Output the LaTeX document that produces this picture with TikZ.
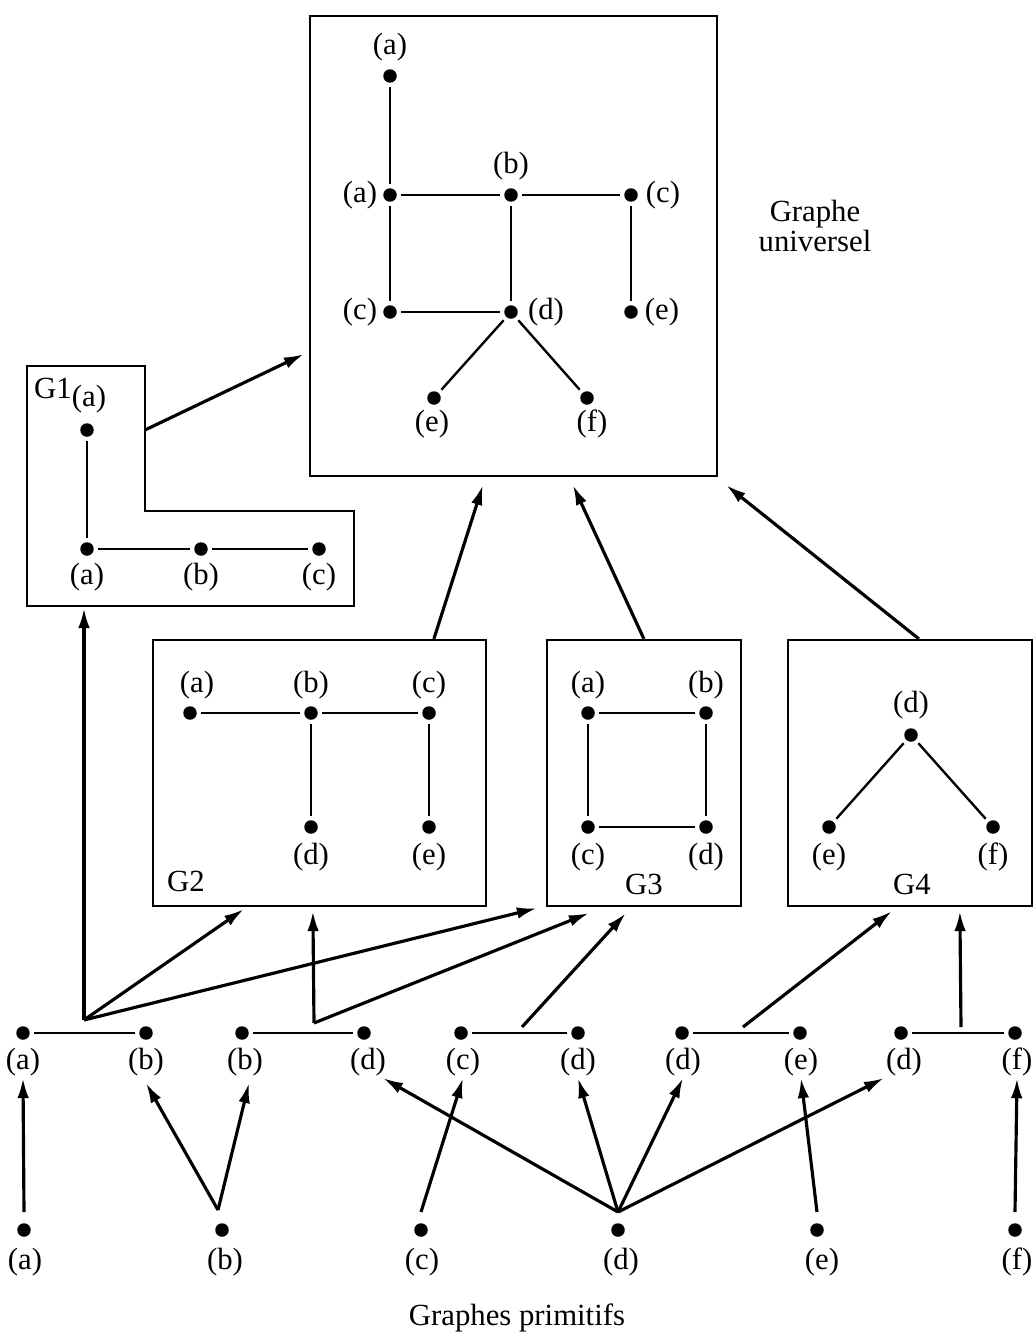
\documentclass[tikz,border=0pt]{standalone}
\usepackage{fontspec}
\setmainfont{Liberation Serif}
\usetikzlibrary{arrows.meta,calc}
\begin{document}
\begin{tikzpicture}[x=0.02cm,y=-0.02cm,
  dot/.style={circle,fill=black,inner sep=0pt,minimum size=0.27cm},
  lbl/.style={inner sep=1pt,font=\fontsize{17.5}{17}\selectfont},
  edge/.style={line width=1.35pt,shorten <=0.08cm,shorten >=0.08cm},
  box/.style={draw,line width=1.3pt,rectangle,inner sep=0pt},
  arr/.style={line width=1.8pt,-{Latex[length=0.4cm,width=0.23cm]}},
]
\useasboundingbox (0,0) rectangle (1035,1335);

% ---------------- Universal graph ----------------
\node[box,minimum width=8.14cm,minimum height=9.2cm] (U) at (513.5,246) {};
\node[dot] (Ua1) at (390,76) {};  \node[lbl] (LUa1) at (390,47) {(a)};
\node[dot] (Ua)  at (390,195) {}; \node[lbl] (LUa)  at (360,195) {(a)};
\node[dot] (Ub)  at (511,195) {}; \node[lbl] (LUb)  at (511,166) {(b)};
\node[dot] (Uc)  at (631,195) {}; \node[lbl] (LUc)  at (663,195) {(c)};
\node[dot] (Uc2) at (390,312) {}; \node[lbl] (LUc2) at (360,312) {(c)};
\node[dot] (Ud)  at (511,312) {}; \node[lbl] (LUd)  at (546,312) {(d)};
\node[dot] (Ue)  at (631,312) {}; \node[lbl] (LUe)  at (662,312) {(e)};
\node[dot] (Ue2) at (434,398) {}; \node[lbl] (LUe2) at (432,424) {(e)};
\node[dot] (Uf)  at (587,398) {}; \node[lbl] (LUf)  at (592,424) {(f)};
\draw[edge] (Ua1) -- (Ua);
\draw[edge] (Ua) -- (Ub);
\draw[edge] (Ub) -- (Uc);
\draw[edge] (Ua) -- (Uc2);
\draw[edge] (Uc2) -- (Ud);
\draw[edge] (Ub) -- (Ud);
\draw[edge] (Uc) -- (Ue);
\draw[edge] (Ud) -- (Ue2);
\draw[edge] (Ud) -- (Uf);
\node[lbl,align=center] (title1) at (815,226) {Graphe\\universel};

% ---------------- G1 ----------------
\draw[line width=1.3pt] (27,366) -- (145,366) -- (145,511) -- (354,511) -- (354,606) -- (27,606) -- cycle;
\coordinate (G1r) at (145,430);
\coordinate (G1bot) at (84,608);
\node[lbl] (G1name) at (53,388) {G1};
\node[dot] (G1a1) at (87,430) {}; \node[lbl] (LG1a1) at (89,399) {(a)};
\node[dot] (G1a)  at (87,549) {}; \node[lbl] (LG1a)  at (87,577) {(a)};
\node[dot] (G1b)  at (201,549) {}; \node[lbl] (LG1b) at (201,577) {(b)};
\node[dot] (G1c)  at (319,549) {}; \node[lbl] (LG1c) at (319,577) {(c)};
\draw[edge] (G1a1) -- (G1a);
\draw[edge] (G1a) -- (G1b);
\draw[edge] (G1b) -- (G1c);

% ---------------- G2 ----------------
\node[box,minimum width=6.66cm,minimum height=5.32cm] (G2) at (319.5,773) {};
\node[lbl] (G2name) at (186,881) {G2};
\node[dot] (G2a) at (190,713) {}; \node[lbl] (LG2a) at (197,685) {(a)};
\node[dot] (G2b) at (311,713) {}; \node[lbl] (LG2b) at (311,685) {(b)};
\node[dot] (G2c) at (429,713) {}; \node[lbl] (LG2c) at (429,685) {(c)};
\node[dot] (G2d) at (311,827) {}; \node[lbl] (LG2d) at (311,857) {(d)};
\node[dot] (G2e) at (429,827) {}; \node[lbl] (LG2e) at (429,857) {(e)};
\draw[edge] (G2a) -- (G2b);
\draw[edge] (G2b) -- (G2c);
\draw[edge] (G2b) -- (G2d);
\draw[edge] (G2c) -- (G2e);

% ---------------- G3 ----------------
\node[box,minimum width=3.88cm,minimum height=5.32cm] (G3) at (644,773) {};
\node[lbl] (G3name) at (644,884) {G3};
\node[dot] (G3a) at (588,713) {}; \node[lbl] (LG3a) at (588,685) {(a)};
\node[dot] (G3b) at (706,713) {}; \node[lbl] (LG3b) at (706,685) {(b)};
\node[dot] (G3c) at (588,827) {}; \node[lbl] (LG3c) at (588,857) {(c)};
\node[dot] (G3d) at (706,827) {}; \node[lbl] (LG3d) at (706,857) {(d)};
\draw[edge] (G3a) -- (G3b);
\draw[edge] (G3a) -- (G3c);
\draw[edge] (G3b) -- (G3d);
\draw[edge] (G3c) -- (G3d);

% ---------------- G4 ----------------
\node[box,minimum width=4.88cm,minimum height=5.32cm] (G4) at (910,773) {};
\node[lbl] (G4name) at (912,884) {G4};
\node[dot] (G4d) at (911,735) {}; \node[lbl] (LG4d) at (911,705) {(d)};
\node[dot] (G4e) at (829,827) {}; \node[lbl] (LG4e) at (829,857) {(e)};
\node[dot] (G4f) at (993,827) {}; \node[lbl] (LG4f) at (993,857) {(f)};
\draw[edge] (G4d) -- (G4e);
\draw[edge] (G4d) -- (G4f);

% ---------------- arrows to universal ----------------
\draw[arr] (G1r) -- ($(U.south west)+(-5,-123)$);
\draw[arr] ($(G2.north west)+(282,0)$) -- ($(U.south west)+(174,8)$);
\draw[arr] ($(G3.north west)+(98,0)$) -- ($(U.south west)+(264,8)$);
\draw[arr] ($(G4.north west)+(132,0)$) -- ($(U.south east)+(8,8)$);

% ---------------- pairs ----------------
\node[dot] (p1a) at (23,1033) {};  \node[lbl] (Lp1a) at (23,1062) {(a)};
\node[dot] (p1b) at (146,1033) {}; \node[lbl] (Lp1b) at (146,1062) {(b)};
\node[dot] (p2b) at (242,1033) {}; \node[lbl] (Lp2b) at (245,1062) {(b)};
\node[dot] (p2d) at (364,1033) {}; \node[lbl] (Lp2d) at (368,1062) {(d)};
\node[dot] (p3c) at (461,1033) {}; \node[lbl] (Lp3c) at (463,1062) {(c)};
\node[dot] (p3d) at (578,1033) {}; \node[lbl] (Lp3d) at (578,1062) {(d)};
\node[dot] (p4d) at (682,1033) {}; \node[lbl] (Lp4d) at (683,1062) {(d)};
\node[dot] (p4e) at (800,1033) {}; \node[lbl] (Lp4e) at (801,1062) {(e)};
\node[dot] (p5d) at (901,1033) {}; \node[lbl] (Lp5d) at (904,1062) {(d)};
\node[dot] (p5f) at (1015,1033) {}; \node[lbl] (Lp5f) at (1017,1062) {(f)};
\draw[edge] (p1a) -- (p1b);
\draw[edge] (p2b) -- (p2d);
\draw[edge] (p3c) -- (p3d);
\draw[edge] (p4d) -- (p4e);
\draw[edge] (p5d) -- (p5f);

\coordinate (J1) at (84,1020);
\coordinate (J2) at (314,1023);
\coordinate (J3) at (522,1027);
\coordinate (J4) at (743,1027);
\coordinate (J5) at (961,1027);

\draw[arr] (J1) -- (G1bot);
\draw[arr] (J1) -- ($(G2.south west)+(92,2)$);
\draw[arr] (J1) -- ($(G3.south west)+(-9,1)$);
\draw[arr] (J2) -- ($(G2.south west)+(161,4)$);
\draw[arr] (J2) -- ($(G3.south west)+(43,6)$);
\draw[arr] (J3) -- ($(G3.south west)+(80,6)$);
\draw[arr] (J4) -- ($(G4.south west)+(105,4)$);
\draw[arr] (J5) -- ($(G4.south west)+(173,4)$);

% ---------------- primitive graphs ----------------
\node[dot] (qa) at (24,1230) {};  \node[lbl] (Lqa) at (25,1262) {(a)};
\node[dot] (qb) at (222,1230) {}; \node[lbl] (Lqb) at (225,1262) {(b)};
\node[dot] (qc) at (421,1230) {}; \node[lbl] (Lqc) at (422,1262) {(c)};
\node[dot] (qd) at (618,1230) {}; \node[lbl] (Lqd) at (621,1262) {(d)};
\node[dot] (qe) at (817,1230) {}; \node[lbl] (Lqe) at (822,1262) {(e)};
\node[dot] (qf) at (1015,1230) {}; \node[lbl] (Lqf) at (1017,1262) {(f)};

\coordinate (sa) at (24,1212);
\coordinate (sb) at (218,1210);
\coordinate (sc) at (421,1212);
\coordinate (sd) at (618,1212);
\coordinate (se) at (817,1212);
\coordinate (sf) at (1015,1212);

\draw[arr] (sa) -- (Lp1a.south);
\draw[arr] (sb) -- ([yshift=-0.1cm]Lp1b.south);
\draw[arr] (sb) -- ([yshift=-0.1cm,xshift=0.08cm]Lp2b.south);
\draw[arr] (sc) -- (Lp3c.south);
\draw[arr] (sd) -- ([xshift=-0.1cm]Lp2d.south east);
\draw[arr] (sd) -- (Lp3d.south);
\draw[arr] (sd) -- (Lp4d.south);
\draw[arr] (sd) -- (Lp5d.south west);
\draw[arr] (se) -- (Lp4e.south);
\draw[arr] (sf) -- (Lp5f.south);

\node[lbl] (title2) at (517,1318) {Graphes primitifs};
\end{tikzpicture}
\end{document}
